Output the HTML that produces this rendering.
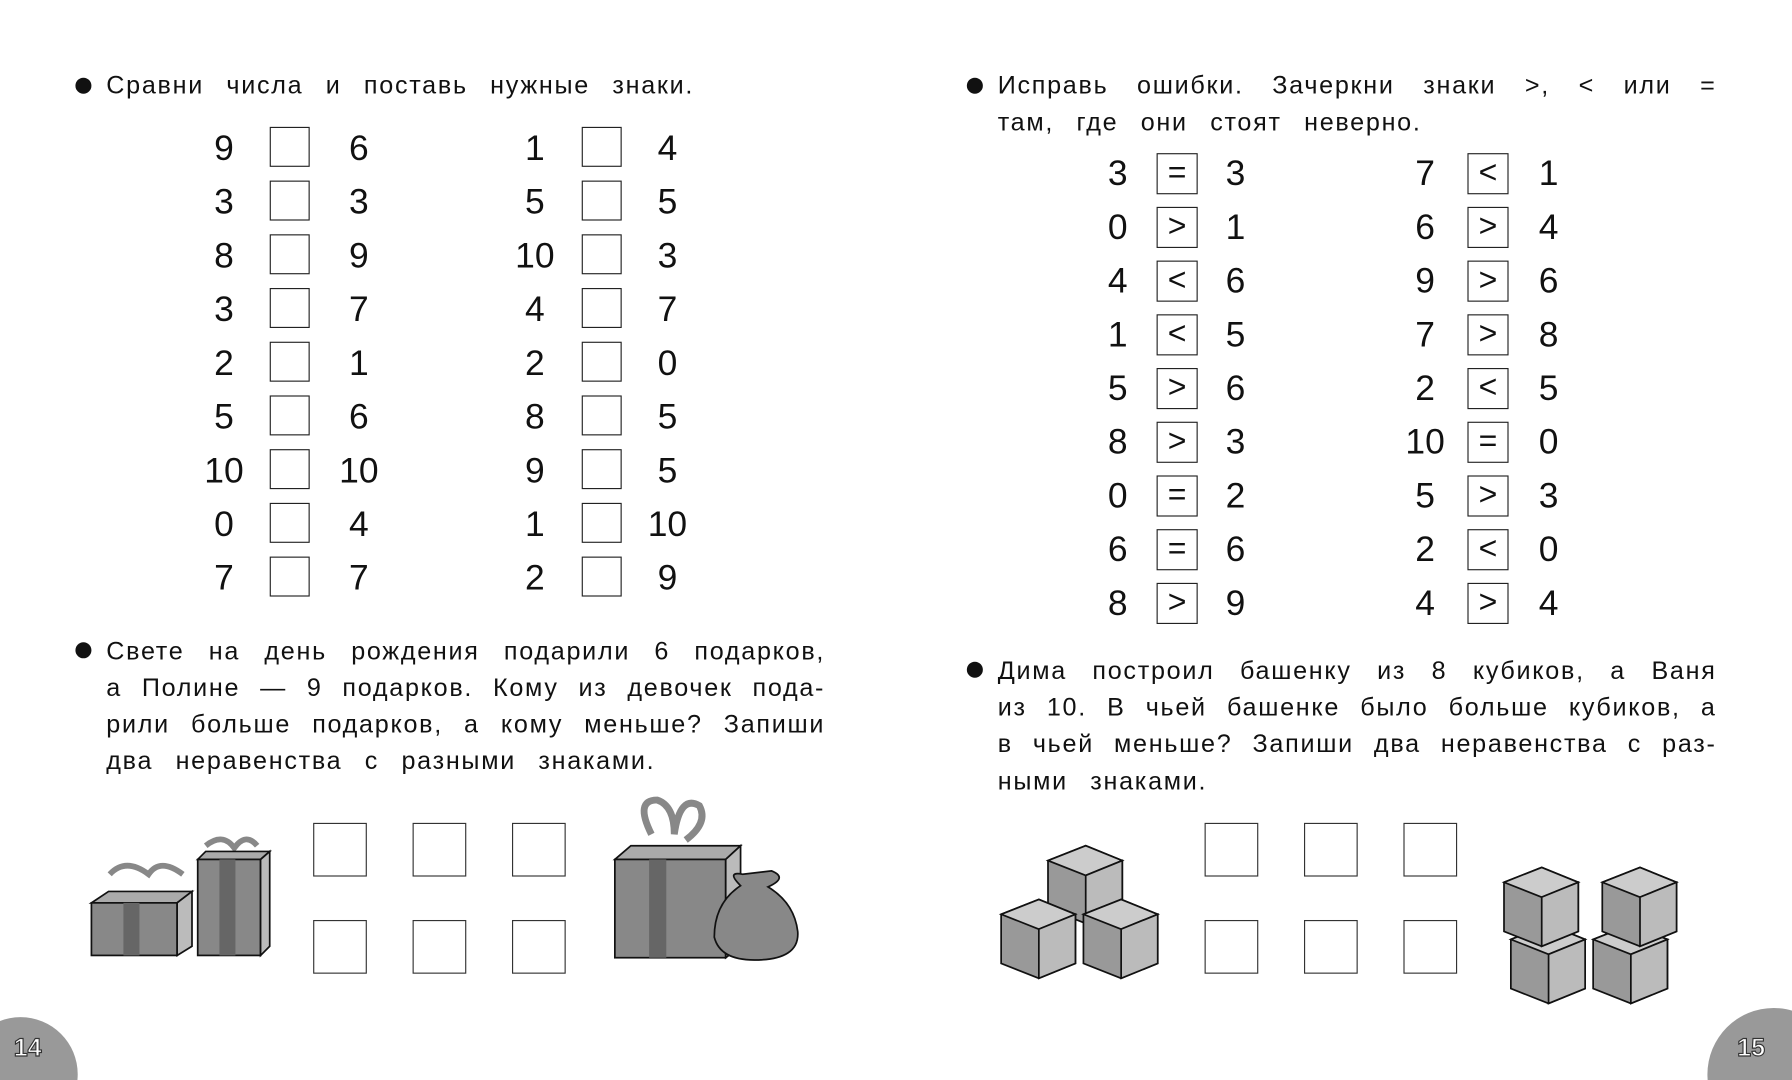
<!DOCTYPE html>
<html><head><meta charset="utf-8"><style>
html,body{margin:0;background:#fff;overflow:hidden;width:1792px;height:1080px;}
#w{width:1792px;height:1080px;overflow:hidden;position:relative;background:#fff;}
#p{position:absolute;left:0;top:0;width:1568px;height:945px;transform:scale(1.142857);transform-origin:0 0;font-family:"Liberation Sans",sans-serif;color:#111;}
.t{position:absolute;font-size:22px;line-height:32px;letter-spacing:1.5px;text-align:justify;text-align-last:justify;white-space:nowrap;}
.tl{text-align-last:left;}
.b{position:absolute;width:14px;height:14px;border-radius:50%;background:#111;}
.n{position:absolute;font-size:31px;width:60px;text-align:center;line-height:36px;}
.bx{position:absolute;width:35px;height:35px;border:1.5px solid #222;box-sizing:border-box;background:#fff;}
.sb{position:absolute;width:36px;height:36px;border:1.5px solid #222;box-sizing:border-box;font-size:28px;text-align:center;line-height:32px;}
.ab{position:absolute;width:47px;height:47px;border:1.5px solid #333;box-sizing:border-box;}
</style></head><body><div id="w"><div id="p">
<div class="b" style="left:66px;top:68px"></div>
<div class="t tl" style="left:93px;top:59px;word-spacing:12px">Сравни числа и поставь нужные знаки.</div>
<div class="b" style="left:66px;top:562px"></div>
<div class="t" style="left:93px;top:554px;width:629px">Свете на день рождения подарили 6 подарков,</div>
<div class="t" style="left:93px;top:586px;width:629px">а Полине — 9 подарков. Кому из девочек пода-</div>
<div class="t" style="left:93px;top:618px;width:629px">рили больше подарков, а кому меньше? Запиши</div>
<div class="t tl" style="left:93px;top:650px;word-spacing:12px">два неравенства с разными знаками.</div>
<div class="b" style="left:846px;top:68px"></div>
<div class="t" style="left:873px;top:59px;width:629px">Исправь ошибки. Зачеркни знаки &gt;, &lt; или =</div>
<div class="t tl" style="left:873px;top:91px;word-spacing:12px">там, где они стоят неверно.</div>
<div class="b" style="left:846px;top:579px"></div>
<div class="t" style="left:873px;top:571px;width:629px">Дима построил башенку из 8 кубиков, а Ваня</div>
<div class="t" style="left:873px;top:603px;width:629px">из 10. В чьей башенке было больше кубиков, а</div>
<div class="t" style="left:873px;top:635px;width:629px">в чьей меньше? Запиши два неравенства с раз-</div>
<div class="t tl" style="left:873px;top:668px;word-spacing:12px">ными знаками.</div>
<div id="A"></div>
<svg style="position:absolute;left:0;top:0" width="1568" height="945">
<g stroke="#111" stroke-width="1.5">
<path d="M96 765 Q110 750 130 765 Q140 750 160 765" fill="none" stroke="#888" stroke-width="5"/>
<polygon points="80,790 95,780 168,780 155,790" fill="#aaa"/>
<rect x="80" y="790" width="75" height="46" fill="#888"/>
<polygon points="155,790 168,780 168,828 155,836" fill="#bbb"/>
<rect x="108" y="790" width="14" height="46" fill="#666" stroke="none"/>
<path d="M180 740 Q195 728 205 742 Q215 728 225 740" fill="none" stroke="#888" stroke-width="5"/>
<polygon points="173,752 180,745 236,745 228,752" fill="#aaa"/>
<rect x="173" y="752" width="55" height="84" fill="#888"/>
<polygon points="228,752 236,745 236,828 228,836" fill="#bbb"/>
<rect x="192" y="752" width="14" height="84" fill="#666" stroke="none"/>
<path d="M570 730 Q555 700 575 700 Q590 705 590 730 Q595 695 612 705 Q620 720 600 735" fill="none" stroke="#888" stroke-width="6"/>
<polygon points="538,752 552,740 648,740 635,752" fill="#aaa"/>
<rect x="538" y="752" width="97" height="86" fill="#888"/>
<polygon points="635,752 648,740 648,828 635,838" fill="#bbb"/>
<rect x="568" y="752" width="15" height="86" fill="#666" stroke="none"/>
<path d="M650 765 Q635 762 648 775 Q625 790 625 820 Q630 840 660 840 Q700 840 698 815 Q695 790 672 776 Q690 768 675 762 Z" fill="#888"/>
<g>
<polygon points="917,753 950,740 982,753 982,795 950,808 917,795" fill="#999"/>
<polygon points="917,753 950,740 982,753 950,766" fill="#ccc"/>
<polygon points="950,766 982,753 982,795 950,808" fill="#bbb"/>
<polygon points="876,800 909,787 941,800 941,843 909,856 876,843" fill="#999"/>
<polygon points="876,800 909,787 941,800 909,813" fill="#ccc"/>
<polygon points="909,813 941,800 941,843 909,856" fill="#bbb"/>
<polygon points="948,800 981,787 1013,800 1013,843 981,856 948,843" fill="#999"/>
<polygon points="948,800 981,787 1013,800 981,813" fill="#ccc"/>
<polygon points="981,813 1013,800 1013,843 981,856" fill="#bbb"/>
<polygon points="1322,822 1355,809 1387,822 1387,865 1355,878 1322,865" fill="#999"/>
<polygon points="1322,822 1355,809 1387,822 1355,835" fill="#ccc"/>
<polygon points="1355,835 1387,822 1387,865 1355,878" fill="#bbb"/>
<polygon points="1316,772 1349,759 1381,772 1381,815 1349,828 1316,815" fill="#999"/>
<polygon points="1316,772 1349,759 1381,772 1349,785" fill="#ccc"/>
<polygon points="1349,785 1381,772 1381,815 1349,828" fill="#bbb"/>
<polygon points="1394,822 1427,809 1459,822 1459,865 1427,878 1394,865" fill="#999"/>
<polygon points="1394,822 1427,809 1459,822 1427,835" fill="#ccc"/>
<polygon points="1427,835 1459,822 1459,865 1427,878" fill="#bbb"/>
<polygon points="1402,772 1435,759 1467,772 1467,815 1435,828 1402,815" fill="#999"/>
<polygon points="1402,772 1435,759 1467,772 1435,785" fill="#ccc"/>
<polygon points="1435,785 1467,772 1467,815 1435,828" fill="#bbb"/>
</g></g>
<circle cx="18" cy="940" r="50" fill="#999"/>
<circle cx="1552" cy="940" r="58" fill="#999"/>
<text x="12" y="924" font-family="Liberation Sans" font-weight="bold" font-size="22" fill="#fff" stroke="#333" stroke-width="1">14</text>
<text x="1520" y="924" font-family="Liberation Sans" font-weight="bold" font-size="22" fill="#fff" stroke="#333" stroke-width="1">15</text>
</svg>
</div></div>
<script>
var h='';
var L=[[9,6,1,4],[3,3,5,5],[8,9,10,3],[3,7,4,7],[2,1,2,0],[5,6,8,5],[10,10,9,5],[0,4,1,10],[7,7,2,9]];
L.forEach(function(r,i){var y=130+47*i;
h+='<div class="n" style="left:166px;top:'+(y-18)+'px">'+r[0]+'</div><div class="bx" style="left:236px;top:'+(y-19)+'px"></div><div class="n" style="left:284px;top:'+(y-18)+'px">'+r[1]+'</div>';
h+='<div class="n" style="left:438px;top:'+(y-18)+'px">'+r[2]+'</div><div class="bx" style="left:509px;top:'+(y-19)+'px"></div><div class="n" style="left:554px;top:'+(y-18)+'px">'+r[3]+'</div>';});
var R=[[3,'=',3,7,'&lt;',1],[0,'&gt;',1,6,'&gt;',4],[4,'&lt;',6,9,'&gt;',6],[1,'&lt;',5,7,'&gt;',8],[5,'&gt;',6,2,'&lt;',5],[8,'&gt;',3,10,'=',0],[0,'=',2,5,'&gt;',3],[6,'=',6,2,'&lt;',0],[8,'&gt;',9,4,'&gt;',4]];
R.forEach(function(r,i){var y=152+47*i;
h+='<div class="n" style="left:948px;top:'+(y-18)+'px">'+r[0]+'</div><div class="sb" style="left:1012px;top:'+(y-18)+'px">'+r[1]+'</div><div class="n" style="left:1051px;top:'+(y-18)+'px">'+r[2]+'</div>';
h+='<div class="n" style="left:1217px;top:'+(y-18)+'px">'+r[3]+'</div><div class="sb" style="left:1284px;top:'+(y-18)+'px">'+r[4]+'</div><div class="n" style="left:1325px;top:'+(y-18)+'px">'+r[5]+'</div>';});
[274,361,448,1054,1141,1228].forEach(function(x){[720,805].forEach(function(y){h+='<div class="ab" style="left:'+x+'px;top:'+y+'px"></div>';});});
document.getElementById('A').outerHTML=h;
</script>
</body></html>
